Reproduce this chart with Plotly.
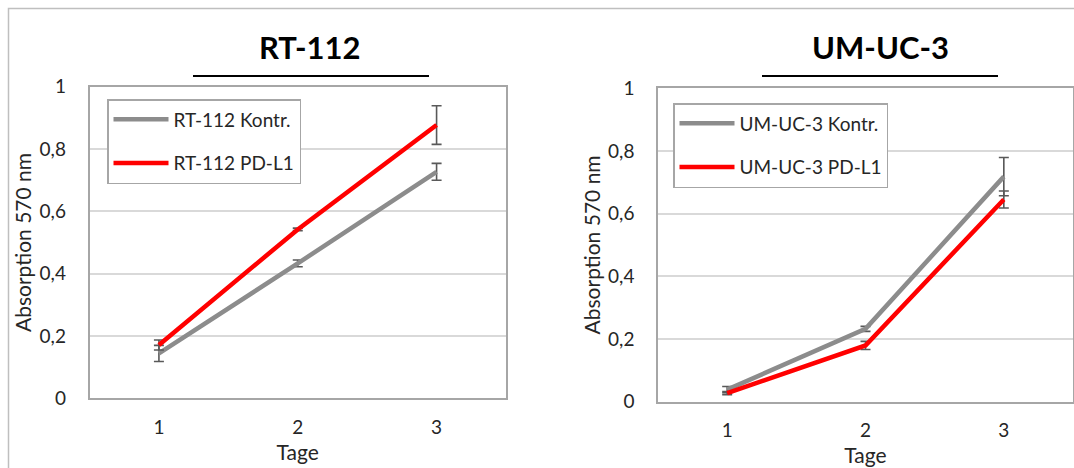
import plotly.graph_objects as go

days = [1, 2, 3]
day_labels = ["1", "2", "3"]

rt_kontr = [0.144, 0.433, 0.727]
rt_kontr_err = [0.026, 0.011, 0.027]
rt_pdl1 = [0.171, 0.542, 0.877]
rt_pdl1_err = [0.016, 0.004, 0.062]

um_kontr = [0.038, 0.232, 0.718]
um_kontr_err = [0.010, 0.008, 0.061]
um_pdl1 = [0.027, 0.179, 0.645]
um_pdl1_err = [0.005, 0.013, 0.027]

y_tick_vals = [0, 0.2, 0.4, 0.6, 0.8, 1.0]
y_tick_labels = ["0", "0,2", "0,4", "0,6", "0,8", "1"]

titles = ["RT-112", "UM-UC-3"]
names_left = ["RT-112 Kontr.", "RT-112 PD-L1"]
names_right = ["UM-UC-3 Kontr.", "UM-UC-3 PD-L1"]

FONT = "Lato"
GRAY = "#8C8C8C"
RED = "#FF0000"
ERR = "#595959"
TXT = "#262626"

W, H = 1074, 468

fig = go.Figure()

def add(x, y, err, name, color, xa, ya, legend, group):
    fig.add_trace(go.Scatter(
        x=x, y=y, mode="lines", name=name,
        line=dict(color=color, width=4.5),
        error_y=dict(type="data", array=err, visible=True, color=ERR, thickness=1.6, width=5),
        xaxis=xa, yaxis=ya, legend=legend, legendgroup=group,
    ))

add(days, rt_kontr, rt_kontr_err, names_left[0], GRAY, "x", "y", "legend", "a")
add(days, rt_pdl1, rt_pdl1_err, names_left[1], RED, "x", "y", "legend", "b")
add(days, um_kontr, um_kontr_err, names_right[0], GRAY, "x2", "y2", "legend2", "c")
add(days, um_pdl1, um_pdl1_err, names_right[1], RED, "x2", "y2", "legend2", "d")

def xaxis(domain, anchor):
    return dict(
        domain=domain, anchor=anchor, range=[0.5, 3.5],
        tickvals=days, ticktext=day_labels,
        showgrid=False, zeroline=False, automargin=False,
        showline=True, linecolor="#A6A6A6", linewidth=1.5, mirror=True,
        ticks="", ticklabelstandoff=11,
        tickfont=dict(family=FONT, size=19, color=TXT),
        title=dict(text="Tage", font=dict(family=FONT, size=21, color=TXT), standoff=8),
    )

def yaxis(domain, anchor):
    return dict(
        domain=domain, anchor=anchor, range=[0, 1],
        tickvals=y_tick_vals, ticktext=y_tick_labels,
        showgrid=True, gridcolor="#D9D9D9", gridwidth=1.5, zeroline=False, automargin=False,
        showline=True, linecolor="#A6A6A6", linewidth=1.5, mirror=True,
        ticks="", ticklabelstandoff=18,
        tickfont=dict(family=FONT, size=19, color=TXT),
        title=dict(text="Absorption 570 nm", font=dict(family=FONT, size=21, color=TXT), standoff=2),
    )

def legend(x, y):
    return dict(
        x=x, y=y, xanchor="left", yanchor="top",
        bordercolor="#A6A6A6", borderwidth=1.5, bgcolor="white",
        font=dict(family=FONT, size=19, color=TXT),
        traceorder="grouped", tracegroupgap=16,
        itemwidth=55,
    )

fig.update_layout(
    width=W, height=H,
    margin=dict(l=0, r=0, t=0, b=0, pad=0, autoexpand=False),
    paper_bgcolor="white", plot_bgcolor="white",
    font=dict(family=FONT, color=TXT),
    xaxis=xaxis([89.5 / W, 506 / W], "y"),
    yaxis=yaxis([1 - 398.3 / H, 1 - 86.7 / H], "x"),
    xaxis2=xaxis([658 / W, 1073 / W], "y2"),
    yaxis2=yaxis([1 - 401.5 / H, 1 - 88.3 / H], "x2"),
    legend=legend(107 / W, 1 - 99 / H),
    legend2=legend(673 / W, 1 - 103 / H),
    showlegend=True,
)

# Panel titles with underline
for txt, cx, x0, x1 in [(titles[0], 310, 193, 429), (titles[1], 880, 762, 998)]:
    fig.add_annotation(
        x=cx / W, y=1 - 47 / H, xref="paper", yref="paper",
        text="<b>" + txt + "</b>", showarrow=False,
        font=dict(family=FONT, size=31, color="black"),
        xanchor="center", yanchor="middle",
    )
    fig.add_shape(type="line", xref="paper", yref="paper",
                  x0=x0 / W, x1=x1 / W, y0=1 - 76 / H, y1=1 - 76 / H,
                  line=dict(color="black", width=2))

# Outer frame
fig.add_shape(type="rect", xref="paper", yref="paper",
              x0=8.5 / W, x1=1.05, y0=-0.05, y1=1 - 8.5 / H,
              line=dict(color="#BFBFBF", width=1.5), layer="below")

fig.write_html(
    "out.html",
    config={"displayModeBar": False},
    post_script="document.body.style.margin='0';document.body.style.overflow='hidden';",
)
